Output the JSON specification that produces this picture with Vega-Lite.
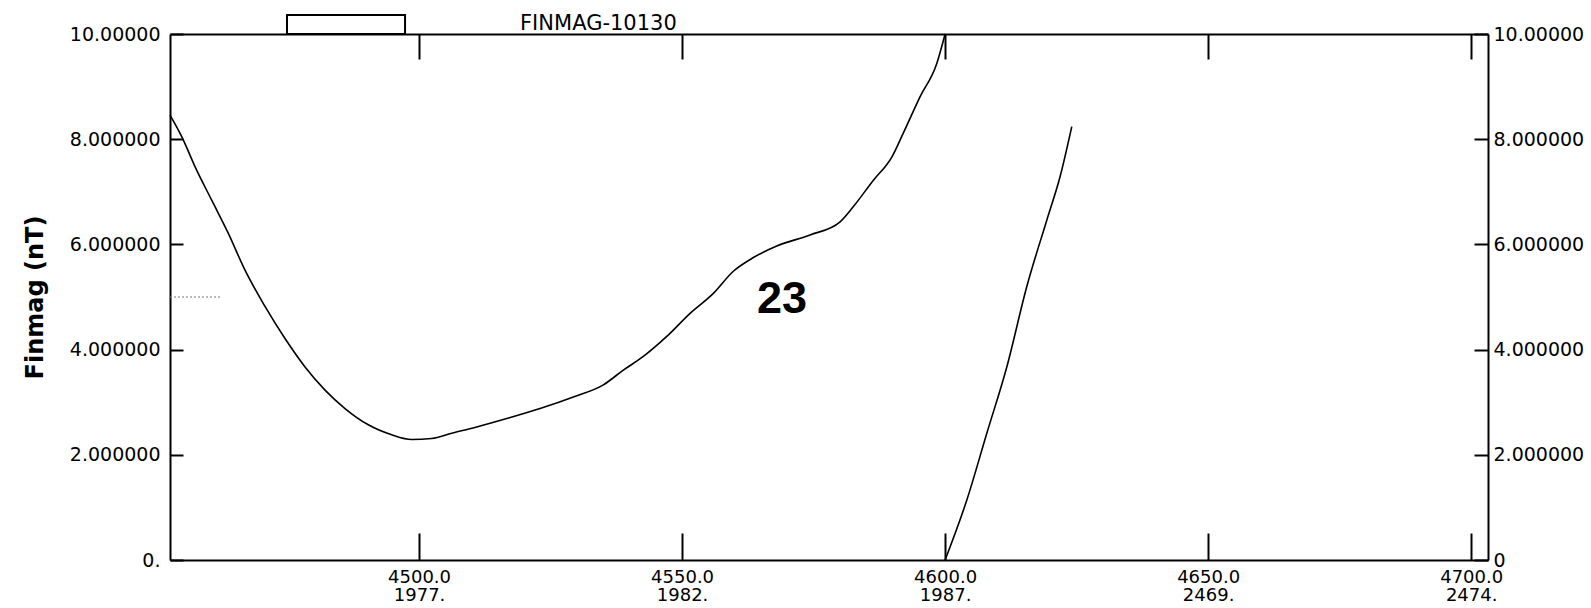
{
  "$schema": "https://vega.github.io/schema/vega-lite/v6.json",
  "width": 1318,
  "height": 526,
  "autosize": {"type": "none"},
  "padding": {"left": 170, "top": 34, "right": 103, "bottom": 48},
  "background": "white",
  "config": {
    "view": {"stroke": null},
    "axis": {
      "grid": false,
      "domainColor": "black",
      "domainWidth": 2,
      "tickColor": "black",
      "tickWidth": 2,
      "labelColor": "black",
      "labelFont": "DejaVu Sans",
      "labelFontSize": 19,
      "labelFontWeight": "normal",
      "titleColor": "black"
    }
  },
  "resolve": {"scale": {"x": "shared", "y": "shared"}, "axis": {"x": "independent", "y": "independent"}},
  "layer": [
    {
      "data": {"values": [
        {"x": 4452.66, "y": 8.46, "s": 1},
        {"x": 4454.89, "y": 8.05, "s": 1},
        {"x": 4457.41, "y": 7.48, "s": 1},
        {"x": 4460.59, "y": 6.84, "s": 1},
        {"x": 4463.75, "y": 6.21, "s": 1},
        {"x": 4466.92, "y": 5.51, "s": 1},
        {"x": 4470.72, "y": 4.82, "s": 1},
        {"x": 4474.52, "y": 4.21, "s": 1},
        {"x": 4478.33, "y": 3.67, "s": 1},
        {"x": 4482.13, "y": 3.23, "s": 1},
        {"x": 4485.93, "y": 2.88, "s": 1},
        {"x": 4490.36, "y": 2.57, "s": 1},
        {"x": 4494.81, "y": 2.38, "s": 1},
        {"x": 4498.61, "y": 2.29, "s": 1},
        {"x": 4502.41, "y": 2.31, "s": 1},
        {"x": 4506.22, "y": 2.41, "s": 1},
        {"x": 4510.97, "y": 2.53, "s": 1},
        {"x": 4516.67, "y": 2.69, "s": 1},
        {"x": 4523.0, "y": 2.88, "s": 1},
        {"x": 4529.33, "y": 3.1, "s": 1},
        {"x": 4535.04, "y": 3.33, "s": 1},
        {"x": 4538.84, "y": 3.61, "s": 1},
        {"x": 4542.64, "y": 3.87, "s": 1},
        {"x": 4547.09, "y": 4.25, "s": 1},
        {"x": 4551.52, "y": 4.69, "s": 1},
        {"x": 4555.95, "y": 5.07, "s": 1},
        {"x": 4559.75, "y": 5.49, "s": 1},
        {"x": 4563.55, "y": 5.75, "s": 1},
        {"x": 4568.0, "y": 5.97, "s": 1},
        {"x": 4574.33, "y": 6.18, "s": 1},
        {"x": 4580.04, "y": 6.43, "s": 1},
        {"x": 4582.57, "y": 6.72, "s": 1},
        {"x": 4586.37, "y": 7.22, "s": 1},
        {"x": 4589.87, "y": 7.66, "s": 1},
        {"x": 4592.07, "y": 8.12, "s": 1},
        {"x": 4595.25, "y": 8.81, "s": 1},
        {"x": 4598.42, "y": 9.44, "s": 1},
        {"x": 4600.0, "y": 10.0, "s": 1},
        {"x": 4600.0, "y": 0.0, "s": 2},
        {"x": 4604.13, "y": 1.14, "s": 2},
        {"x": 4607.93, "y": 2.41, "s": 2},
        {"x": 4611.73, "y": 3.67, "s": 2},
        {"x": 4615.53, "y": 5.2, "s": 2},
        {"x": 4619.33, "y": 6.46, "s": 2},
        {"x": 4621.86, "y": 7.29, "s": 2},
        {"x": 4624.08, "y": 8.24, "s": 2}
      ]},
      "mark": {"type": "line", "color": "black", "strokeWidth": 1.6, "interpolate": "monotone"},
      "encoding": {
        "x": {
          "field": "x", "type": "quantitative",
          "scale": {"domain": [4452.66, 4703.2], "nice": false, "zero": false},
          "axis": {
            "orient": "bottom",
            "title": null,
            "values": [4500, 4550, 4600, 4650, 4700],
            "tickSize": -27,
            "labelPadding": 35,
            "labelFontSize": 18,
            "labelLineHeight": 18,
            "labelFlush": false,
            "labelOverlap": false,
            "labelExpr": "[format(datum.value, '.1f'), datum.value == 4500 ? '1977.' : datum.value == 4550 ? '1982.' : datum.value == 4600 ? '1987.' : datum.value == 4650 ? '2469.' : '2474.']"
          }
        },
        "y": {
          "field": "y", "type": "quantitative",
          "scale": {"domain": [0, 10], "nice": false, "zero": false},
          "axis": {
            "orient": "left",
            "title": "Finmag (nT)",
            "titleFont": "DejaVu Sans",
            "titleFontWeight": "bold",
            "titleFontSize": 24,
            "titleAngle": -90,
            "titleX": -135,
            "titleY": 263,
            "titleAlign": "center",
            "titleBaseline": "middle",
            "values": [0, 2, 4, 6, 8, 10],
            "tickSize": -13,
            "labelPadding": 23,
            "labelFlush": false,
            "labelOverlap": false,
            "labelExpr": "datum.value == 0 ? '0.' : datum.value == 10 ? '10.00000' : format(datum.value, '.6f')"
          }
        },
        "detail": {"field": "s", "type": "nominal"}
      }
    },
    {
      "data": {"values": [{"x1": 4474.9, "x2": 4497.34, "y1": 10.0, "y2": 10.36}]},
      "mark": {"type": "rect", "fill": "white", "stroke": "black", "strokeWidth": 2},
      "encoding": {
        "x": {
          "field": "x1", "type": "quantitative",
          "axis": {
            "orient": "top",
            "title": null,
            "values": [4500, 4550, 4600, 4650, 4700],
            "tickSize": -25,
            "labels": false
          }
        },
        "x2": {"field": "x2"},
        "y": {
          "field": "y1", "type": "quantitative",
          "axis": {
            "orient": "right",
            "title": null,
            "values": [0, 2, 4, 6, 8, 10],
            "tickSize": -14,
            "labelPadding": 19,
            "labelFlush": false,
            "labelOverlap": false,
            "labelExpr": "datum.value == 0 ? '0' : datum.value == 10 ? '10.00000' : format(datum.value, '.6f')"
          }
        },
        "y2": {"field": "y2"}
      }
    },
    {
      "data": {"values": [{"x1": 4452.66, "x2": 4462.17, "y": 5}]},
      "mark": {"type": "rule", "color": "#777777", "strokeWidth": 1, "strokeDash": [2, 2]},
      "encoding": {
        "x": {"field": "x1", "type": "quantitative", "axis": null},
        "x2": {"field": "x2"},
        "y": {"field": "y", "type": "quantitative", "axis": null}
      }
    },
    {
      "data": {"values": [{"x": 4519.2, "y": 10.067, "label": "FINMAG-10130"}]},
      "mark": {"type": "text", "font": "DejaVu Sans", "fontSize": 21, "align": "left", "baseline": "alphabetic", "color": "black"},
      "encoding": {
        "x": {"field": "x", "type": "quantitative", "axis": null},
        "y": {"field": "y", "type": "quantitative", "axis": null},
        "text": {"field": "label"}
      }
    },
    {
      "data": {"values": [{"x": 4569.0, "y": 4.7, "label": "23"}]},
      "mark": {"type": "text", "font": "Liberation Sans", "fontSize": 45, "fontWeight": "bold", "align": "center", "baseline": "alphabetic", "color": "black"},
      "encoding": {
        "x": {"field": "x", "type": "quantitative", "axis": null},
        "y": {"field": "y", "type": "quantitative", "axis": null},
        "text": {"field": "label"}
      }
    }
  ]
}
